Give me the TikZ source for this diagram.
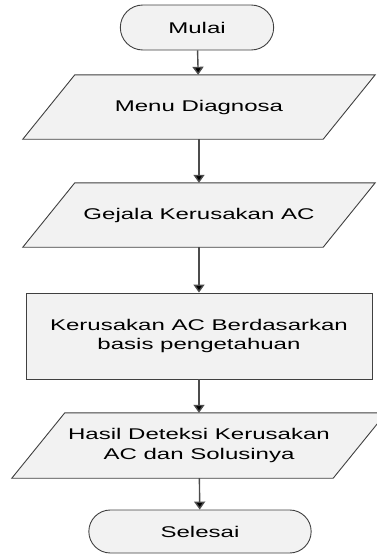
\documentclass[tikz,border=0pt]{standalone}
\usepackage{fontspec}
\setmainfont{Liberation Sans}[FakeStretch=1.55]
\usetikzlibrary{shapes.misc,arrows.meta,backgrounds}
\newcommand\ioshape[2]{% nama node, kemiringan
  \begin{scope}[on background layer]
    \draw[iobox] ([xshift=#2]#1.north west) -- (#1.north east) -- ([xshift=-#2]#1.south east) -- (#1.south west) -- cycle;
  \end{scope}}
\begin{document}
\begin{tikzpicture}[x=1pt,y=1pt,
    txt/.style={font=\fontsize{15.5}{19.5}\selectfont,align=center},
    terminal/.style={txt,draw=black!75,fill=black!5,line width=0.9pt,rounded rectangle},
    io/.style={txt,minimum height=64pt},
    iobox/.style={draw=black!75,fill=black!5,line width=0.9pt},
    proc/.style={txt,draw=black!75,fill=black!5,line width=0.9pt,minimum width=346pt,minimum height=86pt},
    flow/.style={draw=black!70,line width=1.4pt,-{Triangle[width=11pt,length=8pt,fill=black]}}]
    \useasboundingbox (0,0) rectangle (376,-554);
    % simbol alur
    \node[terminal,minimum width=160pt,minimum height=45pt] (mulai) at (197,-27.5) {Mulai};
    \node[io,minimum width=352pt] (menu) at (199,-107) {Menu Diagnosa};
    \ioshape{menu}{52}
    \node[io,minimum width=352pt] (gejala) at (199,-215) {Gejala Kerusakan AC};
    \ioshape{gejala}{52}
    \node[proc] (basis) at (199,-336) {Kerusakan AC Berdasarkan\\basis pengetahuan};
    \node[io,minimum width=374pt,minimum height=65pt] (hasil) at (199,-445.5) {Hasil Deteksi Kerusakan\\AC dan Solusinya};
    \ioshape{hasil}{53}
    \node[terminal,minimum width=229pt,minimum height=43pt] (selesai) at (200,-531.5) {Selesai};
    % panah
    \draw[flow] (mulai) -- (menu);
    \draw[flow] (menu) -- (gejala);
    \draw[flow] (gejala) -- (basis);
    \draw[flow] (basis) -- (hasil);
    \draw[flow] (hasil) -- (selesai);
\end{tikzpicture}
\end{document}
